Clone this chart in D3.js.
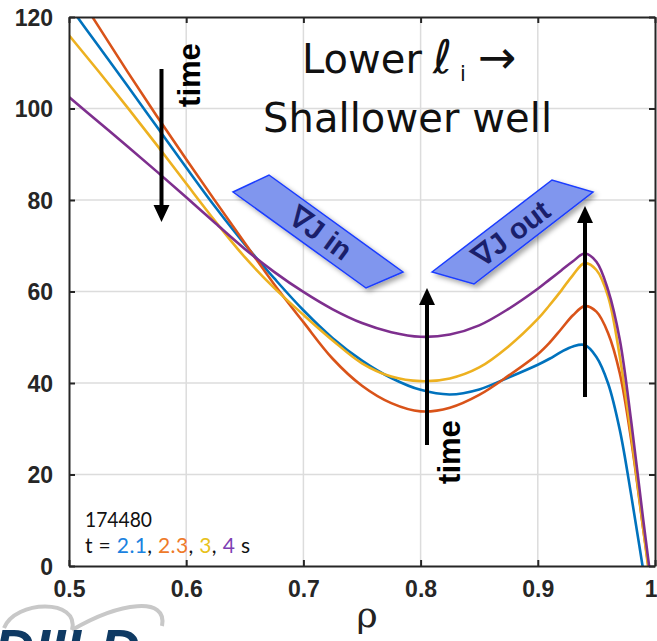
<!DOCTYPE html>
<html>
<head>
<meta charset="utf-8">
<script src="https://cdn.jsdelivr.net/npm/d3@7"></script>
<style>
  body { margin: 0; background: #fff; }
  svg { display: block; }
</style>
</head>
<body>
<div id="chart"></div>
<script>
// radial grid (rho) shared by all profiles
const rho = [0.500, 0.525, 0.550, 0.575, 0.600, 0.625, 0.650, 0.675, 0.700, 0.725, 0.750, 0.775, 0.800,
             0.825, 0.850, 0.875, 0.900, 0.910, 0.920, 0.930, 0.940, 0.950, 0.960, 0.970, 0.980, 0.990, 1.000];

// profiles at t = 2.1, 2.3, 3, 4 s
const t21 = [122.5, 113.7, 104.9, 96.0, 87.1, 78.4, 70.3, 62.9, 55.9, 49.8, 44.9, 41.1, 38.5,
             37.5, 38.6, 41.2, 44.0, 45.3, 46.8, 48.0, 48.3, 45.7, 39.9, 29.7, 15.0, -1.0, -17.0];
const t23 = [128.0, 118.0, 108.0, 98.3, 88.9, 79.7, 70.6, 61.6, 53.3, 45.3, 39.4, 35.6, 33.8,
             34.6, 37.4, 41.6, 46.3, 48.8, 51.8, 54.8, 56.8, 55.6, 50.9, 42.1, 27.0, 8.0, -10.0];
const t3  = [116.0, 108.2, 100.2, 92.0, 83.6, 75.3, 67.5, 60.8, 54.9, 49.3, 44.3, 41.4, 40.4,
             41.0, 43.4, 48.0, 54.0, 57.0, 60.2, 63.6, 66.2, 64.7, 58.9, 45.7, 28.0, 8.0, -12.0];
const t4  = [102.5, 97.1, 91.7, 86.2, 80.6, 74.9, 69.3, 64.3, 59.9, 56.1, 53.1, 51.1, 50.1,
             50.6, 52.6, 56.2, 60.6, 62.6, 64.6, 66.6, 68.3, 66.5, 60.3, 49.4, 31.0, 10.0, -10.0];

const seriesNames = ["2.1", "2.3", "3", "4"];
const seriesValues = [t21, t23, t3, t4];
const lineColors = ["#0072BD", "#D95319", "#EDB120", "#7E2F8E"];
const legendColors = ["#1a82e0", "#ee7a2a", "#e8c21c", "#7d3fb4"];

const xTicks = [0.5, 0.6, 0.7, 0.8, 0.9, 1];
const yTicks = [0, 20, 40, 60, 80, 100, 120];

const W = 657, H = 641;
const margin = { top: 17, right: 2, bottom: 75, left: 69 };
const width = W - margin.left - margin.right;
const height = H - margin.top - margin.bottom;

const svg = d3.select("#chart").append("svg")
  .attr("width", W).attr("height", H);

const defs = svg.append("defs");
defs.append("clipPath").attr("id", "plotClip")
  .append("rect").attr("width", width).attr("height", height);
const shadow = defs.append("filter").attr("id", "shadow")
  .attr("x", "-20%").attr("y", "-20%").attr("width", "150%").attr("height", "150%");
shadow.append("feDropShadow")
  .attr("dx", 3).attr("dy", 3).attr("stdDeviation", 2.5)
  .attr("flood-color", "#000").attr("flood-opacity", 0.35);

const g = svg.append("g")
  .attr("transform", `translate(${margin.left},${margin.top})`);

const x = d3.scaleLinear().domain([0.5, 1]).range([0, width]);
const y = d3.scaleLinear().domain([0, 120]).range([height, 0]);

// grid
g.append("g").selectAll("line").data(xTicks.slice(1, -1)).join("line")
  .attr("x1", d => x(d)).attr("x2", d => x(d))
  .attr("y1", 0).attr("y2", height)
  .attr("stroke", "#dcdcdc").attr("stroke-width", 1.5);
g.append("g").selectAll("line").data(yTicks.slice(1, -1)).join("line")
  .attr("y1", d => y(d)).attr("y2", d => y(d))
  .attr("x1", 0).attr("x2", width)
  .attr("stroke", "#dcdcdc").attr("stroke-width", 1.5);

// curves
const line = d3.line()
  .x((d, i) => x(rho[i]))
  .y(d => y(d))
  .curve(d3.curveCatmullRom.alpha(0.5));

const curves = g.append("g").attr("clip-path", "url(#plotClip)");
seriesValues.forEach((vals, k) => {
  curves.append("path")
    .datum(vals)
    .attr("d", line)
    .attr("fill", "none")
    .attr("stroke", lineColors[k])
    .attr("stroke-width", 2.6)
    .attr("stroke-linejoin", "round");
});

// axes (MATLAB style box with inward ticks)
const axisFont = "Liberation Sans, Arial, sans-serif";
const xAxis = g.append("g").attr("transform", `translate(0,${height})`)
  .call(d3.axisBottom(x).tickValues(xTicks).tickSizeInner(-6).tickSizeOuter(0)
    .tickPadding(15).tickFormat(d3.format("")));
const yAxis = g.append("g")
  .call(d3.axisLeft(y).tickValues(yTicks).tickSizeInner(-6).tickSizeOuter(0).tickPadding(16));
g.append("g").call(d3.axisTop(x).tickValues(xTicks).tickSizeInner(-6).tickSizeOuter(0).tickFormat(""));
g.append("g").attr("transform", `translate(${width},0)`)
  .call(d3.axisRight(y).tickValues(yTicks).tickSizeInner(-6).tickSizeOuter(0).tickFormat(""));

g.selectAll(".domain").attr("stroke", "#262626").attr("stroke-width", 2);
g.selectAll(".tick line").attr("stroke", "#262626").attr("stroke-width", 2);
g.selectAll(".tick text")
  .attr("fill", "#262626")
  .style("font-family", axisFont)
  .style("font-weight", "bold")
  .style("font-size", "23px");
xAxis.selectAll(".tick text").attr("dy", "0.71em");
yAxis.selectAll(".tick text").attr("dy", "0.36em");
// last x label sits against the right edge
xAxis.selectAll(".tick").filter(d => d === 1).select("text")
  .attr("text-anchor", "end").attr("x", margin.right);

// x label
svg.append("text")
  .attr("x", 367).attr("y", 627)
  .attr("text-anchor", "middle")
  .style("font-family", "DejaVu Serif, serif")
  .style("font-size", "36px")
  .attr("fill", "#222")
  .text("ρ");

// title
const titleFont = "'DejaVu Sans', sans-serif";
const t1 = svg.append("text")
  .attr("y", 73)
  .style("font-family", titleFont)
  .style("font-size", "40px")
  .attr("fill", "#111");
t1.append("tspan").attr("x", 302).text("Lower");
t1.append("tspan").attr("x", 433).style("font-style", "italic").style("font-size", "46px").text("ℓ");
t1.append("tspan").attr("x", 460).attr("dy", 8).attr("fill", "#111").style("font-size", "21px").text("i");
t1.append("tspan").attr("x", 478).attr("dy", -8).style("font-size", "46px").text("→");
svg.append("text")
  .attr("x", 263).attr("y", 132)
  .attr("textLength", 289)
  .style("font-family", titleFont)
  .style("font-size", "40px")
  .attr("fill", "#111")
  .text("Shallower well");

// gradient-J boxes
const boxes = [
  { pts: [[233, 192], [269, 175], [403, 272], [366, 288]], label: "∇J in", cx: 321, cy: 233, ang: 36 },
  { pts: [[432, 272], [552, 180], [593, 192], [474, 284]], label: "∇J out", cx: 511, cy: 233, ang: -37 }
];
boxes.forEach(b => {
  svg.append("polygon")
    .attr("points", b.pts.map(p => p.join(",")).join(" "))
    .attr("fill", "#8096ee")
    .attr("stroke", "#1a3cff")
    .attr("stroke-width", 1.5)
    .attr("filter", "url(#shadow)");
  svg.append("text")
    .attr("transform", `translate(${b.cx},${b.cy}) rotate(${b.ang})`)
    .attr("text-anchor", "middle")
    .attr("dy", "0.36em")
    .style("font-family", axisFont)
    .style("font-weight", "bold")
    .style("font-size", "29px")
    .attr("fill", "#1a1f6b")
    .text(b.label);
});

// time arrows
const arrows = [
  { x: 161.5, y1: 69, y2: 222, label: { x: 200, y: 75 } },
  { x: 427, y1: 445, y2: 288, label: { x: 460, y: 452 } },
  { x: 585, y1: 397, y2: 206, label: null }
];
arrows.forEach(a => {
  const dir = a.y2 > a.y1 ? 1 : -1;
  const headLen = 17, headW = 8;
  svg.append("line")
    .attr("x1", a.x).attr("x2", a.x)
    .attr("y1", a.y1).attr("y2", a.y2 - dir * headLen)
    .attr("stroke", "#000").attr("stroke-width", 4);
  svg.append("polygon")
    .attr("points", [[a.x - headW, a.y2 - dir * headLen], [a.x + headW, a.y2 - dir * headLen], [a.x, a.y2]]
      .map(p => p.join(",")).join(" "))
    .attr("fill", "#000");
  if (a.label) {
    svg.append("text")
      .attr("transform", `translate(${a.label.x},${a.label.y}) rotate(-90)`)
      .attr("text-anchor", "middle")
      .style("font-family", axisFont)
      .style("font-weight", "bold")
      .style("font-size", "31px")
      .attr("fill", "#000")
      .text("time");
  }
});

// shot legend
const legFont = "Lato, 'Open Sans', sans-serif";
svg.append("text")
  .attr("x", 85).attr("y", 527)
  .attr("textLength", 67).attr("lengthAdjust", "spacingAndGlyphs")
  .style("font-family", legFont).style("font-size", "21px").attr("fill", "#111")
  .text("174480");
const leg = svg.append("text")
  .attr("x", 85).attr("y", 553)
  .attr("textLength", 165)
  .style("font-family", legFont).style("font-size", "21px").attr("fill", "#111");
leg.append("tspan").text("t = ");
seriesNames.forEach((n, k) => {
  leg.append("tspan").attr("fill", legendColors[k]).text(n);
  leg.append("tspan").attr("fill", "#111").text(k < seriesNames.length - 1 ? ", " : " s");
});

// DIII-D logo (cut at bottom edge)
svg.append("path")
  .attr("d", "M4,628 C15,600 80,598 72,630 M72,630 C120,602 168,596 162,626")
  .attr("fill", "none").attr("stroke", "#c8c8c8").attr("stroke-width", 4);
svg.append("text")
  .attr("x", -6).attr("y", 668)
  .style("font-family", axisFont)
  .style("font-weight", "bold").style("font-style", "italic")
  .style("font-size", "56px")
  .attr("fill", "#0f3a63")
  .text("DIII-D");
</script>
</body>
</html>
